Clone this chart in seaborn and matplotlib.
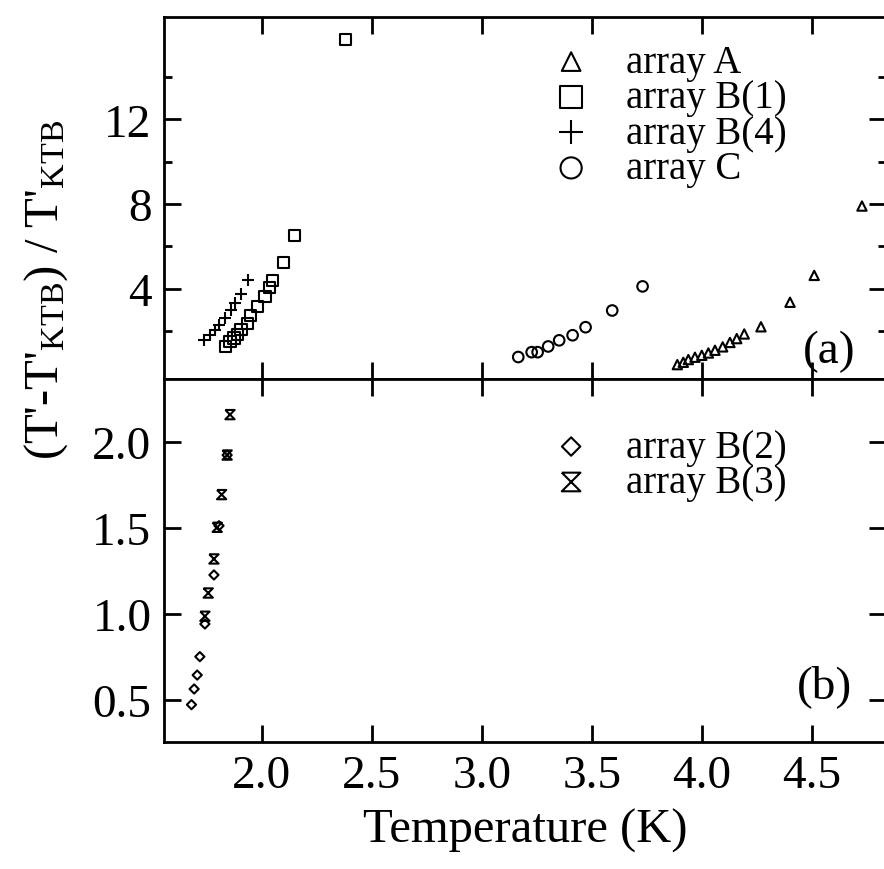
import matplotlib
matplotlib.use("Agg")
import matplotlib.pyplot as plt
from matplotlib.ticker import FormatStrFormatter
import seaborn as sns

sns.set_theme(style="ticks")
plt.rcParams.update({
    "font.family": "Liberation Serif",
    "mathtext.fontset": "custom",
    "mathtext.rm": "Liberation Serif",
    "mathtext.it": "Liberation Serif:italic",
    "axes.linewidth": 2.0,
    "text.color": "black",
    "axes.labelcolor": "black",
    "xtick.color": "black",
    "ytick.color": "black",
})

# panel (a): (T'-T'KTB)/T'KTB vs temperature
a_x = [4.727, 4.510, 4.400, 4.268, 4.192, 4.158, 4.127, 4.094, 4.059, 4.029,
       3.999, 3.968, 3.938, 3.915, 3.888]
a_y = [7.90, 4.62, 3.35, 2.19, 1.85, 1.63, 1.45, 1.24, 1.08, 0.95,
       0.84, 0.75, 0.64, 0.51, 0.40]

b1_x = [2.380, 2.147, 2.097, 2.049, 2.036, 2.014, 1.979, 1.950, 1.933, 1.905,
        1.890, 1.873, 1.855, 1.833]
b1_y = [15.77, 6.51, 5.25, 4.38, 4.03, 3.64, 3.13, 2.72, 2.34, 2.06,
        1.82, 1.66, 1.50, 1.27]

b4_x = [1.938, 1.903, 1.877, 1.859, 1.832, 1.806, 1.786, 1.764, 1.736]
b4_y = [4.38, 3.76, 3.32, 3.00, 2.61, 2.29, 2.06, 1.82, 1.58]

c_x = [3.730, 3.592, 3.471, 3.412, 3.351, 3.301, 3.253, 3.226, 3.165]
c_y = [4.10, 2.96, 2.17, 1.79, 1.55, 1.26, 0.99, 0.99, 0.76]

# panel (b)
b2_x = [1.842, 1.805, 1.782, 1.741, 1.718, 1.706, 1.692, 1.680]
b2_y = [1.924, 1.513, 1.227, 0.942, 0.752, 0.645, 0.564, 0.473]

b3_x = [1.855, 1.842, 1.817, 1.797, 1.782, 1.756, 1.741]
b3_y = [2.159, 1.924, 1.694, 1.504, 1.320, 1.122, 0.987]

xticks = [2.0, 2.5, 3.0, 3.5, 4.0, 4.5]

hourglass = [(-1, 1), (1, 1), (-1, -1), (1, -1), (-1, 1)]

fig = plt.figure(figsize=(8.84, 8.70), dpi=100)
ax_a = fig.add_axes([0.1855, 0.5632, 0.8167, 0.4161])
ax_b = fig.add_axes([0.1855, 0.146, 0.8167, 0.4172], sharex=ax_a)

open_kw = dict(facecolor="none", edgecolor="black", linewidth=1.5)

sns.scatterplot(x=a_x, y=a_y, marker="^", s=45, label="array A", ax=ax_a, **open_kw)
sns.scatterplot(x=b1_x, y=b1_y, marker="s", s=64, label="array B(1)", ax=ax_a, **open_kw)
sns.scatterplot(x=b4_x, y=b4_y, marker="+", s=75, color="black", linewidth=1.5,
                label="array B(4)", ax=ax_a)
sns.scatterplot(x=c_x, y=c_y, marker="o", s=58, label="array C", ax=ax_a, **open_kw)

sns.scatterplot(x=b2_x, y=b2_y, marker="D", s=22, label="array B(2)", ax=ax_b, **open_kw)
sns.scatterplot(x=b3_x, y=b3_y, marker=hourglass, s=45, label="array B(3)", ax=ax_b, **open_kw)

ax_a.set_xlim(1.555, 4.836)
ax_a.set_ylim(-0.28, 16.84)
ax_b.set_ylim(0.256, 2.366)

ax_a.set_yticks([4, 8, 12])
ax_a.set_yticks([2, 6, 10, 14], minor=True)
ax_b.set_yticks([0.5, 1.0, 1.5, 2.0])
ax_b.yaxis.set_major_formatter(FormatStrFormatter("%.1f"))
ax_b.set_xticks(xticks)
ax_b.xaxis.set_major_formatter(FormatStrFormatter("%.1f"))

for ax in (ax_a, ax_b):
    ax.tick_params(which="both", direction="in", top=True, right=True,
                   width=2.0, labelsize=34, pad=9, colors="black")
    ax.tick_params(which="major", length=12)
    ax.tick_params(which="minor", length=6)
    for sp in ax.spines.values():
        sp.set_linewidth(2.0)
        sp.set_color("black")
ax_a.tick_params(labelbottom=False)

leg_kw = dict(frameon=False, fontsize=28, markerscale=2.0, handlelength=1.0,
              handletextpad=0.9, labelspacing=-0.04, borderpad=0, borderaxespad=0,
              loc="upper left")
ax_a.legend(bbox_to_anchor=(0.537, 0.926), **leg_kw)
ax_b.legend(bbox_to_anchor=(0.537, 0.863), **leg_kw)

ax_a.text(0.922, 0.077, "(a)", transform=ax_a.transAxes, fontsize=34,
          ha="center", va="center")
ax_b.text(0.915, 0.154, "(b)", transform=ax_b.transAxes, fontsize=34,
          ha="center", va="center")

ax_b.set_xlabel("Temperature (K)", fontsize=35, labelpad=8)
ax_a.set_ylabel("")
ax_b.set_ylabel("")
fig.text(0.052, 1 - 290 / 870, r"(T'-T'$_{\mathrm{KTB}}$) / T'$_{\mathrm{KTB}}$",
         rotation=90, fontsize=35, ha="center", va="center")

fig.savefig("out.png", dpi=100)
